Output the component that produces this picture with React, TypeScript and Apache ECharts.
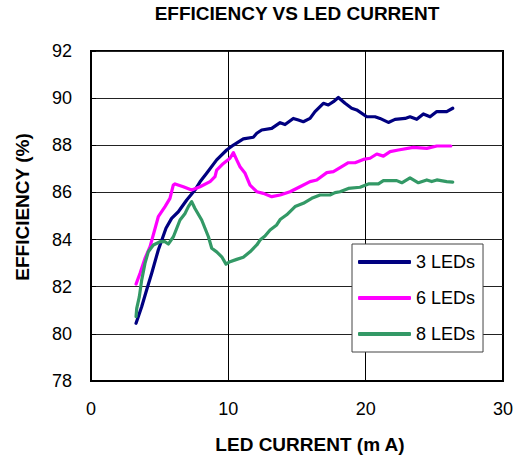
import React, { useEffect, useRef } from "react";
import * as echarts from "echarts";

const titleText = "EFFICIENCY VS LED CURRENT";
const xAxisName = "LED CURRENT (m A)";
const yAxisName = "EFFICIENCY (%)";
const seriesNames = ["3 LEDs", "6 LEDs", "8 LEDs"];

const led3Current = [3.28, 3.69, 4.05, 4.42, 4.9, 5.46, 5.87, 6.36, 6.97, 7.57, 7.94, 8.42, 9.15, 9.88, 10.37, 11.09, 11.82, 12.07, 12.43, 13.16, 13.77, 14.13, 14.73, 15.1, 15.46, 15.95, 16.31, 16.92, 17.28, 17.65, 18.01, 18.5, 18.98, 19.35, 20.08, 20.68, 21.04, 21.65, 22.14, 22.87, 23.23, 23.72, 24.2, 24.69, 25.18, 25.9, 26.34];
const led3Eff = [80.45, 81.15, 81.86, 82.57, 83.56, 84.48, 84.9, 85.18, 85.68, 86.1, 86.45, 86.81, 87.38, 87.8, 88.01, 88.27, 88.34, 88.51, 88.65, 88.72, 88.96, 88.88, 89.14, 89.07, 89.0, 89.14, 89.43, 89.78, 89.71, 89.85, 90.03, 89.78, 89.57, 89.5, 89.21, 89.21, 89.14, 88.97, 89.1, 89.14, 89.21, 89.1, 89.33, 89.21, 89.43, 89.43, 89.57];

const led6Current = [3.28, 3.57, 3.93, 4.3, 4.9, 5.39, 5.75, 5.99, 6.12, 6.72, 7.33, 7.94, 8.67, 9.03, 9.15, 9.64, 10.12, 10.37, 10.61, 10.85, 11.22, 11.58, 12.07, 12.55, 13.16, 13.77, 14.49, 15.22, 15.95, 16.44, 17.17, 17.65, 18.26, 18.74, 19.23, 19.83, 20.32, 20.81, 21.29, 21.78, 22.38, 23.47, 24.45, 25.18, 26.2];
const led6Eff = [82.11, 82.57, 83.2, 83.7, 84.97, 85.4, 85.75, 86.31, 86.36, 86.24, 86.1, 86.24, 86.46, 86.67, 86.95, 87.23, 87.45, 87.69, 87.38, 87.09, 86.81, 86.31, 86.03, 85.96, 85.82, 85.89, 86.03, 86.24, 86.46, 86.53, 86.84, 86.88, 87.09, 87.26, 87.26, 87.4, 87.45, 87.63, 87.54, 87.73, 87.8, 87.91, 87.87, 87.97, 87.97];

const led8Current = [3.28, 3.33, 3.52, 3.69, 3.93, 4.17, 4.54, 5.03, 5.39, 5.63, 6.0, 6.48, 6.85, 7.09, 7.33, 7.57, 8.06, 8.55, 8.79, 9.15, 9.52, 9.83, 10.12, 10.61, 11.09, 11.58, 12.07, 12.31, 12.67, 13.04, 13.52, 13.77, 14.25, 14.86, 15.46, 16.07, 16.68, 17.04, 17.4, 17.77, 18.13, 18.74, 19.59, 20.2, 20.93, 21.29, 22.26, 22.63, 23.23, 23.84, 24.45, 24.81, 25.18, 25.9, 26.34];
const led8Eff = [80.73, 81.08, 81.58, 82.28, 82.99, 83.48, 83.77, 83.91, 83.91, 83.81, 84.12, 84.83, 85.11, 85.4, 85.61, 85.32, 84.83, 84.12, 83.63, 83.48, 83.27, 82.96, 83.06, 83.16, 83.25, 83.48, 83.77, 83.98, 84.15, 84.41, 84.62, 84.85, 85.05, 85.4, 85.54, 85.75, 85.89, 85.89, 85.89, 85.99, 86.03, 86.17, 86.22, 86.36, 86.36, 86.5, 86.5, 86.41, 86.62, 86.41, 86.53, 86.46, 86.53, 86.46, 86.44];

const colors = ["#000080", "#FF00FF", "#339966"];
const FONT = "'Liberation Sans', Arial, sans-serif";

function zip(xs: number[], ys: number[]) {
  return xs.map((x, i) => [x, ys[i]]);
}

export default function App() {
  const ref = useRef<HTMLDivElement>(null);
  useEffect(() => {
    document.body.style.margin = "0";
    if (!ref.current) return;
    const chart = echarts.init(ref.current, null, { renderer: "svg" });
    const datasets = [zip(led3Current, led3Eff), zip(led6Current, led6Eff), zip(led8Current, led8Eff)];
    chart.setOption({
      animation: false,
      backgroundColor: "#fff",
      textStyle: { fontFamily: FONT },
      title: {
        text: titleText,
        left: 297,
        top: 4,
        padding: 0,
        textAlign: "center",
        textStyle: { fontSize: 19, fontWeight: "bold", color: "#000", fontFamily: FONT },
      },
      grid: {
        left: 91,
        right: 18,
        top: 51,
        bottom: 79,
        show: true,
        borderColor: "#000",
        borderWidth: 2,
        backgroundColor: "transparent",
      },
      legend: {
        orient: "vertical",
        left: 352,
        top: 244,
        padding: [9, 8, 9, 6],
        itemGap: 18,
        itemWidth: 53,
        itemHeight: 4,
        icon: "roundRect",
        backgroundColor: "#fff",
        borderColor: "#444",
        borderWidth: 1,
        borderRadius: 0,
        textStyle: { fontSize: 18, color: "#000", fontFamily: FONT },
        data: seriesNames,
      },
      xAxis: {
        type: "value",
        min: 0,
        max: 30,
        interval: 10,
        axisLine: { show: true, lineStyle: { color: "#000", width: 2 } },
        axisTick: { show: true, inside: true, length: 5, lineStyle: { color: "#000" } },
        axisLabel: { fontSize: 18, color: "#000", margin: 19, fontFamily: FONT },
        splitLine: { show: true, lineStyle: { color: "#000", width: 1 } },
      },
      yAxis: {
        type: "value",
        min: 78,
        max: 92,
        interval: 2,
        axisLine: { show: true, lineStyle: { color: "#000", width: 2 } },
        axisTick: { show: true, inside: true, length: 5, lineStyle: { color: "#000" } },
        axisLabel: { fontSize: 18, color: "#000", margin: 19, fontFamily: FONT },
        splitLine: { show: true, lineStyle: { color: "#222", width: 1 } },
      },
      graphic: [
        {
          type: "text",
          x: 310,
          y: 444,
          style: {
            text: xAxisName,
            fontSize: 19,
            fontWeight: "bold",
            fontFamily: FONT,
            fill: "#000",
            textAlign: "center",
            textVerticalAlign: "middle",
          },
        },
        {
          type: "text",
          x: 22,
          y: 207,
          rotation: Math.PI / 2,
          style: {
            text: yAxisName,
            fontSize: 19,
            fontWeight: "bold",
            fontFamily: FONT,
            fill: "#000",
            textAlign: "center",
            textVerticalAlign: "middle",
          },
        },
      ],
      series: seriesNames.map((name, i) => ({
        name,
        type: "line",
        data: datasets[i],
        showSymbol: false,
        symbol: "none",
        smooth: false,
        color: colors[i],
        lineStyle: { color: colors[i], width: 3.2, cap: "round", join: "round" },
      })),
    });
    return () => chart.dispose();
  }, []);
  return <div ref={ref} style={{ position: "fixed", left: 0, top: 0, width: 521, height: 460 }} />;
}
